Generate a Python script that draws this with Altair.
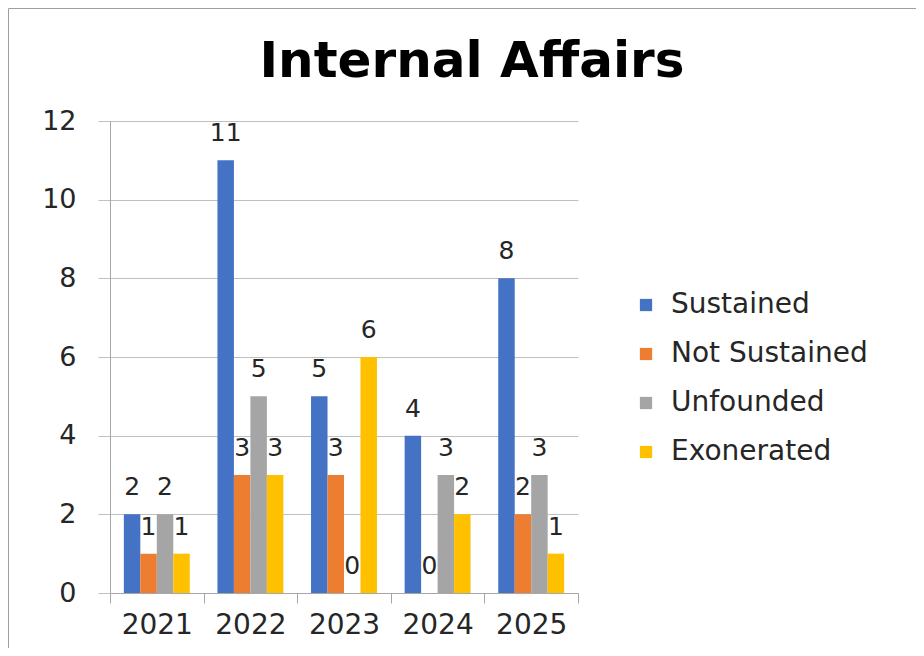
import altair as alt
import pandas as pd

years = ["2021", "2022", "2023", "2024", "2025"]
series = ["Sustained", "Not Sustained", "Unfounded", "Exonerated"]
sustained = [2, 11, 5, 4, 8]
not_sustained = [1, 3, 3, 0, 2]
unfounded = [2, 5, 0, 3, 3]
exonerated = [1, 3, 6, 2, 1]
colors = ["#4472C4", "#ED7D31", "#A5A5A5", "#FFC000"]
y_ticks = [0, 2, 4, 6, 8, 10, 12]
title_text = ["Internal Affairs"]

rows = []
for name, vals in zip(series, [sustained, not_sustained, unfounded, exonerated]):
    for yr, v in zip(years, vals):
        rows.append({"Year": yr, "Series": name, "Count": v})
df = pd.DataFrame(rows)

W, H = 468, 472
PL, PT = 102, 113
TW, TH = 908, 640
FONT = "DejaVu Sans"
TXT = "#262626"

x_enc = alt.X(
    "Year:N", sort=years,
    scale=alt.Scale(paddingInner=0, paddingOuter=0),
    axis=alt.Axis(title=None, labelAngle=0, tickBand="extent", ticks=True, tickSize=10,
                  tickColor="#A6A6A6", domainColor="#A6A6A6", labelFontSize=28,
                  labelPadding=8, labelColor=TXT, labelFont=FONT, grid=False),
)
y_enc = alt.Y(
    "Count:Q",
    scale=alt.Scale(domain=[0, 12], nice=False),
    axis=alt.Axis(title=None, values=y_ticks, grid=True, gridColor="#BFBFBF",
                  domainColor="#A6A6A6", tickColor="#BFBFBF", tickSize=12,
                  labelPadding=22, labelFontSize=27, labelColor=TXT, labelFont=FONT),
)
xoff = alt.XOffset("Series:N", sort=series, scale=alt.Scale(paddingOuter=0.84, paddingInner=0))
color = alt.Color(
    "Series:N", sort=series,
    scale=alt.Scale(domain=series, range=colors),
    legend=alt.Legend(title=None, orient="none", legendX=522, legendY=170,
                      symbolType="square", symbolSize=150, symbolStrokeWidth=0,
                      labelFontSize=28, labelFont=FONT, labelColor=TXT, labelLimit=400,
                      labelOffset=11, rowPadding=21),
)

bars = alt.Chart(df).mark_bar().encode(x=x_enc, y=y_enc, xOffset=xoff, color=color)
labels = alt.Chart(df).mark_text(baseline="alphabetic", dy=-19, fontSize=25, font=FONT, color=TXT).encode(
    x=alt.X("Year:N", sort=years), y="Count:Q", xOffset=alt.XOffset("Series:N", sort=series),
    text="Count:Q")

one = pd.DataFrame({"t": title_text})
title = alt.Chart(one).mark_text(
    fontSize=50, font=FONT, fontWeight="bold", color="#000000", align="center", baseline="alphabetic"
).encode(text="t:N", x=alt.value(472 - 8 - PL), y=alt.value(77 - 8 - PT))

border = alt.Chart(pd.DataFrame({"a": [0]})).mark_rect(
    filled=False, stroke="#9E9E9E", strokeWidth=1
).encode(x=alt.value(-PL + 0.5), x2=alt.value(TW), y=alt.value(-PT + 0.5), y2=alt.value(TH))

chart = alt.layer(border, title, bars, labels).properties(
    width=W, height=H,
    padding={"left": PL, "top": PT, "right": TW - PL - W, "bottom": TH - PT - H},
    autosize=alt.AutoSizeParams(type="none"),
).configure_view(stroke=None)

chart.save("out.html", embed_options={"renderer": "svg", "actions": False})
